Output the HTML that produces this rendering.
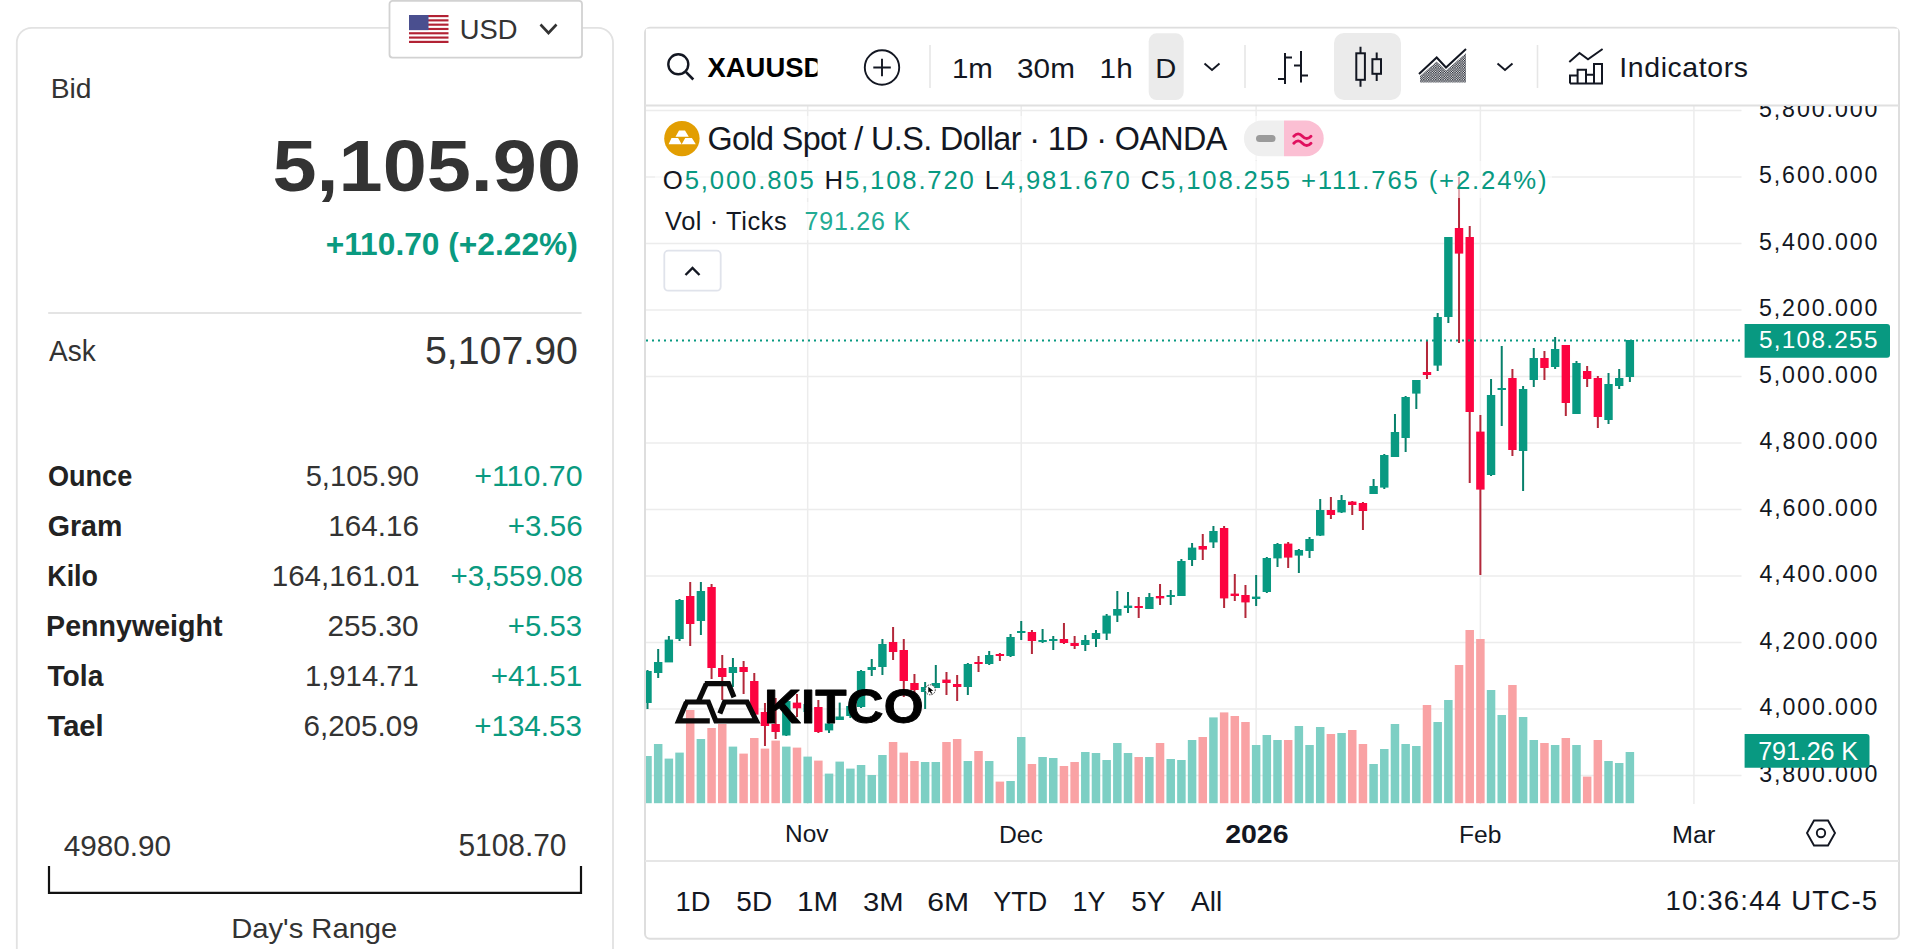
<!DOCTYPE html>
<html><head><meta charset="utf-8"><title>Gold Spot</title>
<style>
html,body{margin:0;padding:0;width:1920px;height:949px;overflow:hidden;background:#ffffff;}
svg{position:absolute;left:0;top:0;display:block;font-family:"Liberation Sans",sans-serif;}
</style></head><body>
<svg width="1920" height="949" viewBox="0 0 1920 949">
<defs>
<clipPath id="clipx"><rect x="700" y="40" width="117.5" height="50"/></clipPath>
<clipPath id="paxclip"><rect x="1742" y="106" width="160" height="700"/></clipPath>
<clipPath id="pane"><rect x="646" y="106" width="1252" height="698"/></clipPath>
<pattern id="dots" width="2.4" height="2.4" patternUnits="userSpaceOnUse"><rect x="0" y="0" width="1.3" height="1.3" fill="#131722"/><rect x="1.2" y="1.2" width="1.2" height="1.2" fill="#131722"/></pattern>
</defs>
<!-- left card -->
<rect x="16.8" y="27.8" width="596.2" height="960" rx="15" fill="#fff" stroke="#e2e2e2" stroke-width="1.8"/>
<line x1="48.2" x2="581.6" y1="312.9" y2="312.9" stroke="#e4e4e4" stroke-width="2"/>
<path d="M49 866 V892.8 H581 V866" fill="none" stroke="#111" stroke-width="2.2"/>
<!-- USD dropdown -->
<rect x="389.5" y="0.9" width="192.5" height="56.7" rx="3" fill="#fff" stroke="#d2d2d2" stroke-width="1.8"/>
<g>
<rect x="409" y="15" width="39.5" height="28" fill="#fff"/>
<rect x="409" y="15" width="39.5" height="2.15" fill="#b22234"/>
<rect x="409" y="19.3" width="39.5" height="2.15" fill="#b22234"/>
<rect x="409" y="23.6" width="39.5" height="2.15" fill="#b22234"/>
<rect x="409" y="27.9" width="39.5" height="2.15" fill="#b22234"/>
<rect x="409" y="32.2" width="39.5" height="2.15" fill="#b22234"/>
<rect x="409" y="36.5" width="39.5" height="2.15" fill="#b22234"/>
<rect x="409" y="40.8" width="39.5" height="2.2" fill="#b22234"/>
<rect x="409" y="15" width="19.5" height="15.1" fill="#4a4f8f"/>
</g>
<path d="M540.5 24.5 L548.5 33 L556.5 24.5" fill="none" stroke="#333" stroke-width="2.6"/>

<!-- chart container -->
<rect x="645" y="27.7" width="1254" height="911" rx="5" fill="#fff" stroke="#dedede" stroke-width="2"/>

<g clip-path="url(#pane)">
<line x1="646" x2="1741.5" y1="110.50" y2="110.50" stroke="#ececec" stroke-width="1.5"/>
<line x1="646" x2="1741.5" y1="177.00" y2="177.00" stroke="#ececec" stroke-width="1.5"/>
<line x1="646" x2="1741.5" y1="243.50" y2="243.50" stroke="#ececec" stroke-width="1.5"/>
<line x1="646" x2="1741.5" y1="310.00" y2="310.00" stroke="#ececec" stroke-width="1.5"/>
<line x1="646" x2="1741.5" y1="376.50" y2="376.50" stroke="#ececec" stroke-width="1.5"/>
<line x1="646" x2="1741.5" y1="443.00" y2="443.00" stroke="#ececec" stroke-width="1.5"/>
<line x1="646" x2="1741.5" y1="509.50" y2="509.50" stroke="#ececec" stroke-width="1.5"/>
<line x1="646" x2="1741.5" y1="576.00" y2="576.00" stroke="#ececec" stroke-width="1.5"/>
<line x1="646" x2="1741.5" y1="642.50" y2="642.50" stroke="#ececec" stroke-width="1.5"/>
<line x1="646" x2="1741.5" y1="709.00" y2="709.00" stroke="#ececec" stroke-width="1.5"/>
<line x1="646" x2="1741.5" y1="775.50" y2="775.50" stroke="#ececec" stroke-width="1.5"/>
<line x1="807.67" x2="807.67" y1="106" y2="804" stroke="#ececec" stroke-width="1.5"/>
<line x1="1021.23" x2="1021.23" y1="106" y2="804" stroke="#ececec" stroke-width="1.5"/>
<line x1="1256.15" x2="1256.15" y1="106" y2="804" stroke="#ececec" stroke-width="1.5"/>
<line x1="1480.38" x2="1480.38" y1="106" y2="804" stroke="#ececec" stroke-width="1.5"/>
<line x1="1693.94" x2="1693.94" y1="106" y2="804" stroke="#ececec" stroke-width="1.5"/>
<rect x="643.25" y="756.0" width="8.5" height="47.2" fill="#7dcfc4"/>
<rect x="653.93" y="744.0" width="8.5" height="59.2" fill="#7dcfc4"/>
<rect x="664.61" y="758.6" width="8.5" height="44.6" fill="#7dcfc4"/>
<rect x="675.28" y="752.6" width="8.5" height="50.6" fill="#7dcfc4"/>
<rect x="685.96" y="710.0" width="8.5" height="93.2" fill="#f9a2a4"/>
<rect x="696.64" y="739.0" width="8.5" height="64.2" fill="#7dcfc4"/>
<rect x="707.32" y="728.0" width="8.5" height="75.2" fill="#f9a2a4"/>
<rect x="718.00" y="724.0" width="8.5" height="79.2" fill="#f9a2a4"/>
<rect x="728.67" y="746.6" width="8.5" height="56.6" fill="#7dcfc4"/>
<rect x="739.35" y="753.6" width="8.5" height="49.6" fill="#f9a2a4"/>
<rect x="750.03" y="738.0" width="8.5" height="65.2" fill="#f9a2a4"/>
<rect x="760.71" y="748.6" width="8.5" height="54.6" fill="#f9a2a4"/>
<rect x="771.39" y="740.6" width="8.5" height="62.6" fill="#f9a2a4"/>
<rect x="782.06" y="746.6" width="8.5" height="56.6" fill="#7dcfc4"/>
<rect x="792.74" y="747.6" width="8.5" height="55.6" fill="#f9a2a4"/>
<rect x="803.42" y="756.6" width="8.5" height="46.6" fill="#7dcfc4"/>
<rect x="814.10" y="760.6" width="8.5" height="42.6" fill="#f9a2a4"/>
<rect x="824.78" y="773.6" width="8.5" height="29.6" fill="#7dcfc4"/>
<rect x="835.45" y="761.6" width="8.5" height="41.6" fill="#7dcfc4"/>
<rect x="846.13" y="768.6" width="8.5" height="34.6" fill="#7dcfc4"/>
<rect x="856.81" y="765.0" width="8.5" height="38.2" fill="#7dcfc4"/>
<rect x="867.49" y="775.0" width="8.5" height="28.2" fill="#7dcfc4"/>
<rect x="878.17" y="755.0" width="8.5" height="48.2" fill="#7dcfc4"/>
<rect x="888.84" y="742.0" width="8.5" height="61.2" fill="#f9a2a4"/>
<rect x="899.52" y="752.6" width="8.5" height="50.6" fill="#f9a2a4"/>
<rect x="910.20" y="761.0" width="8.5" height="42.2" fill="#f9a2a4"/>
<rect x="920.88" y="762.0" width="8.5" height="41.2" fill="#7dcfc4"/>
<rect x="931.56" y="762.0" width="8.5" height="41.2" fill="#7dcfc4"/>
<rect x="942.23" y="742.0" width="8.5" height="61.2" fill="#f9a2a4"/>
<rect x="952.91" y="739.0" width="8.5" height="64.2" fill="#f9a2a4"/>
<rect x="963.59" y="761.0" width="8.5" height="42.2" fill="#7dcfc4"/>
<rect x="974.27" y="751.0" width="8.5" height="52.2" fill="#f9a2a4"/>
<rect x="984.95" y="761.0" width="8.5" height="42.2" fill="#7dcfc4"/>
<rect x="995.62" y="781.6" width="8.5" height="21.6" fill="#f9a2a4"/>
<rect x="1006.30" y="781.0" width="8.5" height="22.2" fill="#7dcfc4"/>
<rect x="1016.98" y="737.0" width="8.5" height="66.2" fill="#7dcfc4"/>
<rect x="1027.66" y="764.0" width="8.5" height="39.2" fill="#f9a2a4"/>
<rect x="1038.34" y="757.0" width="8.5" height="46.2" fill="#7dcfc4"/>
<rect x="1049.01" y="758.0" width="8.5" height="45.2" fill="#7dcfc4"/>
<rect x="1059.69" y="766.0" width="8.5" height="37.2" fill="#f9a2a4"/>
<rect x="1070.37" y="762.0" width="8.5" height="41.2" fill="#f9a2a4"/>
<rect x="1081.05" y="752.0" width="8.5" height="51.2" fill="#7dcfc4"/>
<rect x="1091.73" y="753.0" width="8.5" height="50.2" fill="#7dcfc4"/>
<rect x="1102.40" y="760.0" width="8.5" height="43.2" fill="#7dcfc4"/>
<rect x="1113.08" y="743.0" width="8.5" height="60.2" fill="#7dcfc4"/>
<rect x="1123.76" y="753.0" width="8.5" height="50.2" fill="#7dcfc4"/>
<rect x="1134.44" y="757.0" width="8.5" height="46.2" fill="#f9a2a4"/>
<rect x="1145.12" y="757.0" width="8.5" height="46.2" fill="#7dcfc4"/>
<rect x="1155.79" y="743.0" width="8.5" height="60.2" fill="#f9a2a4"/>
<rect x="1166.47" y="759.0" width="8.5" height="44.2" fill="#7dcfc4"/>
<rect x="1177.15" y="760.0" width="8.5" height="43.2" fill="#7dcfc4"/>
<rect x="1187.83" y="740.0" width="8.5" height="63.2" fill="#7dcfc4"/>
<rect x="1198.51" y="737.0" width="8.5" height="66.2" fill="#f9a2a4"/>
<rect x="1209.18" y="717.4" width="8.5" height="85.8" fill="#7dcfc4"/>
<rect x="1219.86" y="712.4" width="8.5" height="90.8" fill="#f9a2a4"/>
<rect x="1230.54" y="716.0" width="8.5" height="87.2" fill="#f9a2a4"/>
<rect x="1241.22" y="722.0" width="8.5" height="81.2" fill="#f9a2a4"/>
<rect x="1251.90" y="745.0" width="8.5" height="58.2" fill="#7dcfc4"/>
<rect x="1262.57" y="735.0" width="8.5" height="68.2" fill="#7dcfc4"/>
<rect x="1273.25" y="740.0" width="8.5" height="63.2" fill="#7dcfc4"/>
<rect x="1283.93" y="740.0" width="8.5" height="63.2" fill="#f9a2a4"/>
<rect x="1294.61" y="726.0" width="8.5" height="77.2" fill="#7dcfc4"/>
<rect x="1305.29" y="745.0" width="8.5" height="58.2" fill="#7dcfc4"/>
<rect x="1315.96" y="727.0" width="8.5" height="76.2" fill="#7dcfc4"/>
<rect x="1326.64" y="734.0" width="8.5" height="69.2" fill="#f9a2a4"/>
<rect x="1337.32" y="733.0" width="8.5" height="70.2" fill="#7dcfc4"/>
<rect x="1348.00" y="730.0" width="8.5" height="73.2" fill="#f9a2a4"/>
<rect x="1358.68" y="744.0" width="8.5" height="59.2" fill="#f9a2a4"/>
<rect x="1369.35" y="764.0" width="8.5" height="39.2" fill="#7dcfc4"/>
<rect x="1380.03" y="749.0" width="8.5" height="54.2" fill="#7dcfc4"/>
<rect x="1390.71" y="724.0" width="8.5" height="79.2" fill="#7dcfc4"/>
<rect x="1401.39" y="744.0" width="8.5" height="59.2" fill="#7dcfc4"/>
<rect x="1412.07" y="746.0" width="8.5" height="57.2" fill="#7dcfc4"/>
<rect x="1422.74" y="705.0" width="8.5" height="98.2" fill="#f9a2a4"/>
<rect x="1433.42" y="722.0" width="8.5" height="81.2" fill="#7dcfc4"/>
<rect x="1444.10" y="700.0" width="8.5" height="103.2" fill="#7dcfc4"/>
<rect x="1454.78" y="665.0" width="8.5" height="138.2" fill="#f9a2a4"/>
<rect x="1465.46" y="630.0" width="8.5" height="173.2" fill="#f9a2a4"/>
<rect x="1476.13" y="639.0" width="8.5" height="164.2" fill="#f9a2a4"/>
<rect x="1486.81" y="690.0" width="8.5" height="113.2" fill="#7dcfc4"/>
<rect x="1497.49" y="715.0" width="8.5" height="88.2" fill="#7dcfc4"/>
<rect x="1508.17" y="685.0" width="8.5" height="118.2" fill="#f9a2a4"/>
<rect x="1518.85" y="717.0" width="8.5" height="86.2" fill="#7dcfc4"/>
<rect x="1529.52" y="740.0" width="8.5" height="63.2" fill="#7dcfc4"/>
<rect x="1540.20" y="743.0" width="8.5" height="60.2" fill="#f9a2a4"/>
<rect x="1550.88" y="745.0" width="8.5" height="58.2" fill="#7dcfc4"/>
<rect x="1561.56" y="738.0" width="8.5" height="65.2" fill="#f9a2a4"/>
<rect x="1572.24" y="745.0" width="8.5" height="58.2" fill="#7dcfc4"/>
<rect x="1582.91" y="776.6" width="8.5" height="26.6" fill="#f9a2a4"/>
<rect x="1593.59" y="740.0" width="8.5" height="63.2" fill="#f9a2a4"/>
<rect x="1604.27" y="761.0" width="8.5" height="42.2" fill="#7dcfc4"/>
<rect x="1614.95" y="763.0" width="8.5" height="40.2" fill="#7dcfc4"/>
<rect x="1625.63" y="752.0" width="8.5" height="51.2" fill="#7dcfc4"/>
<rect x="646.50" y="670.0" width="2" height="39.0" fill="#07806b"/>
<rect x="643.30" y="671.0" width="8.4" height="32.0" fill="#089981"/>
<rect x="657.18" y="649.0" width="2" height="29.0" fill="#07806b"/>
<rect x="653.98" y="662.0" width="8.4" height="11.0" fill="#089981"/>
<rect x="667.86" y="636.0" width="2" height="26.0" fill="#07806b"/>
<rect x="664.66" y="639.6" width="8.4" height="22.8" fill="#089981"/>
<rect x="678.53" y="599.0" width="2" height="42.0" fill="#07806b"/>
<rect x="675.33" y="600.0" width="8.4" height="39.0" fill="#089981"/>
<rect x="689.21" y="582.0" width="2" height="64.0" fill="#b3283a"/>
<rect x="686.01" y="596.0" width="8.4" height="28.0" fill="#fc0440"/>
<rect x="699.89" y="582.0" width="2" height="53.0" fill="#07806b"/>
<rect x="696.69" y="591.0" width="8.4" height="30.0" fill="#089981"/>
<rect x="710.57" y="584.0" width="2" height="95.0" fill="#b3283a"/>
<rect x="707.37" y="587.0" width="8.4" height="81.0" fill="#fc0440"/>
<rect x="721.25" y="655.0" width="2" height="45.0" fill="#b3283a"/>
<rect x="718.05" y="668.0" width="8.4" height="9.0" fill="#fc0440"/>
<rect x="731.92" y="658.0" width="2" height="29.0" fill="#07806b"/>
<rect x="728.72" y="667.0" width="8.4" height="6.0" fill="#089981"/>
<rect x="742.60" y="661.0" width="2" height="33.0" fill="#b3283a"/>
<rect x="739.40" y="667.0" width="8.4" height="5.0" fill="#fc0440"/>
<rect x="753.28" y="673.0" width="2" height="43.0" fill="#b3283a"/>
<rect x="750.08" y="681.0" width="8.4" height="33.6" fill="#fc0440"/>
<rect x="763.96" y="703.0" width="2" height="43.0" fill="#b3283a"/>
<rect x="760.76" y="712.0" width="8.4" height="14.0" fill="#fc0440"/>
<rect x="774.64" y="698.0" width="2" height="41.0" fill="#b3283a"/>
<rect x="771.44" y="724.0" width="8.4" height="8.0" fill="#fc0440"/>
<rect x="785.31" y="700.0" width="2" height="36.0" fill="#07806b"/>
<rect x="782.11" y="701.0" width="8.4" height="34.5" fill="#089981"/>
<rect x="795.99" y="694.0" width="2" height="23.0" fill="#b3283a"/>
<rect x="792.79" y="702.6" width="8.4" height="5.7" fill="#fc0440"/>
<rect x="806.67" y="697.0" width="2" height="21.0" fill="#07806b"/>
<rect x="803.47" y="704.0" width="8.4" height="8.0" fill="#089981"/>
<rect x="817.35" y="700.0" width="2" height="33.0" fill="#b3283a"/>
<rect x="814.15" y="707.0" width="8.4" height="25.0" fill="#fc0440"/>
<rect x="828.03" y="715.0" width="2" height="18.0" fill="#07806b"/>
<rect x="824.83" y="723.5" width="8.4" height="6.9" fill="#089981"/>
<rect x="838.70" y="702.6" width="2" height="17.4" fill="#07806b"/>
<rect x="835.50" y="716.5" width="8.4" height="3.5" fill="#089981"/>
<rect x="849.38" y="700.0" width="2" height="18.0" fill="#07806b"/>
<rect x="846.18" y="706.0" width="8.4" height="10.0" fill="#089981"/>
<rect x="860.06" y="670.0" width="2" height="38.0" fill="#07806b"/>
<rect x="856.86" y="671.0" width="8.4" height="36.0" fill="#089981"/>
<rect x="870.74" y="659.0" width="2" height="17.0" fill="#07806b"/>
<rect x="867.54" y="667.0" width="8.4" height="3.0" fill="#089981"/>
<rect x="881.42" y="639.0" width="2" height="36.0" fill="#07806b"/>
<rect x="878.22" y="644.0" width="8.4" height="23.0" fill="#089981"/>
<rect x="892.09" y="627.0" width="2" height="33.0" fill="#b3283a"/>
<rect x="888.89" y="642.0" width="8.4" height="10.0" fill="#fc0440"/>
<rect x="902.77" y="639.0" width="2" height="58.0" fill="#b3283a"/>
<rect x="899.57" y="650.0" width="8.4" height="31.0" fill="#fc0440"/>
<rect x="913.45" y="674.0" width="2" height="21.0" fill="#b3283a"/>
<rect x="910.25" y="683.0" width="8.4" height="7.0" fill="#fc0440"/>
<rect x="924.13" y="682.0" width="2" height="27.0" fill="#07806b"/>
<rect x="920.93" y="687.0" width="8.4" height="5.0" fill="#089981"/>
<rect x="934.81" y="665.0" width="2" height="23.0" fill="#07806b"/>
<rect x="931.61" y="683.0" width="8.4" height="5.0" fill="#089981"/>
<rect x="945.48" y="672.0" width="2" height="23.0" fill="#b3283a"/>
<rect x="942.28" y="679.6" width="8.4" height="3.4" fill="#fc0440"/>
<rect x="956.16" y="675.0" width="2" height="26.0" fill="#b3283a"/>
<rect x="952.96" y="684.0" width="8.4" height="3.0" fill="#fc0440"/>
<rect x="966.84" y="663.0" width="2" height="32.0" fill="#07806b"/>
<rect x="963.64" y="664.0" width="8.4" height="23.0" fill="#089981"/>
<rect x="977.52" y="656.0" width="2" height="16.0" fill="#b3283a"/>
<rect x="974.32" y="662.0" width="8.4" height="2.0" fill="#fc0440"/>
<rect x="988.20" y="651.0" width="2" height="14.0" fill="#07806b"/>
<rect x="985.00" y="655.0" width="8.4" height="9.0" fill="#089981"/>
<rect x="998.87" y="653.0" width="2" height="8.0" fill="#b3283a"/>
<rect x="995.67" y="654.0" width="8.4" height="2.0" fill="#fc0440"/>
<rect x="1009.55" y="634.0" width="2" height="23.0" fill="#07806b"/>
<rect x="1006.35" y="637.0" width="8.4" height="19.0" fill="#089981"/>
<rect x="1020.23" y="621.0" width="2" height="19.0" fill="#07806b"/>
<rect x="1017.03" y="631.0" width="8.4" height="2.0" fill="#089981"/>
<rect x="1030.91" y="630.0" width="2" height="24.0" fill="#b3283a"/>
<rect x="1027.71" y="632.0" width="8.4" height="9.0" fill="#fc0440"/>
<rect x="1041.59" y="629.0" width="2" height="14.0" fill="#07806b"/>
<rect x="1038.39" y="640.0" width="8.4" height="2.0" fill="#089981"/>
<rect x="1052.26" y="636.0" width="2" height="14.0" fill="#07806b"/>
<rect x="1049.06" y="639.0" width="8.4" height="2.0" fill="#089981"/>
<rect x="1062.94" y="623.0" width="2" height="21.0" fill="#b3283a"/>
<rect x="1059.74" y="639.0" width="8.4" height="4.0" fill="#fc0440"/>
<rect x="1073.62" y="636.0" width="2" height="13.0" fill="#b3283a"/>
<rect x="1070.42" y="643.0" width="8.4" height="3.0" fill="#fc0440"/>
<rect x="1084.30" y="635.0" width="2" height="16.0" fill="#07806b"/>
<rect x="1081.10" y="640.0" width="8.4" height="5.0" fill="#089981"/>
<rect x="1094.98" y="630.0" width="2" height="17.0" fill="#07806b"/>
<rect x="1091.78" y="633.0" width="8.4" height="6.0" fill="#089981"/>
<rect x="1105.65" y="614.0" width="2" height="26.0" fill="#07806b"/>
<rect x="1102.45" y="615.6" width="8.4" height="18.0" fill="#089981"/>
<rect x="1116.33" y="591.0" width="2" height="31.0" fill="#07806b"/>
<rect x="1113.13" y="609.0" width="8.4" height="6.6" fill="#089981"/>
<rect x="1127.01" y="592.0" width="2" height="21.0" fill="#07806b"/>
<rect x="1123.81" y="605.6" width="8.4" height="2.4" fill="#089981"/>
<rect x="1137.69" y="597.0" width="2" height="21.0" fill="#b3283a"/>
<rect x="1134.49" y="606.0" width="8.4" height="2.0" fill="#fc0440"/>
<rect x="1148.37" y="593.0" width="2" height="16.0" fill="#07806b"/>
<rect x="1145.17" y="597.0" width="8.4" height="12.0" fill="#089981"/>
<rect x="1159.04" y="584.0" width="2" height="21.0" fill="#b3283a"/>
<rect x="1155.84" y="596.0" width="8.4" height="2.4" fill="#fc0440"/>
<rect x="1169.72" y="590.0" width="2" height="15.0" fill="#07806b"/>
<rect x="1166.52" y="595.0" width="8.4" height="2.0" fill="#089981"/>
<rect x="1180.40" y="559.0" width="2" height="37.0" fill="#07806b"/>
<rect x="1177.20" y="561.0" width="8.4" height="35.0" fill="#089981"/>
<rect x="1191.08" y="543.0" width="2" height="23.0" fill="#07806b"/>
<rect x="1187.88" y="547.6" width="8.4" height="12.4" fill="#089981"/>
<rect x="1201.76" y="534.0" width="2" height="26.0" fill="#b3283a"/>
<rect x="1198.56" y="546.0" width="8.4" height="3.6" fill="#fc0440"/>
<rect x="1212.43" y="526.0" width="2" height="22.0" fill="#07806b"/>
<rect x="1209.23" y="531.0" width="8.4" height="11.4" fill="#089981"/>
<rect x="1223.11" y="526.0" width="2" height="82.0" fill="#b3283a"/>
<rect x="1219.91" y="528.0" width="8.4" height="70.4" fill="#fc0440"/>
<rect x="1233.79" y="574.0" width="2" height="27.0" fill="#b3283a"/>
<rect x="1230.59" y="593.6" width="8.4" height="2.4" fill="#fc0440"/>
<rect x="1244.47" y="585.0" width="2" height="33.0" fill="#b3283a"/>
<rect x="1241.27" y="595.0" width="8.4" height="7.4" fill="#fc0440"/>
<rect x="1255.15" y="575.0" width="2" height="31.0" fill="#07806b"/>
<rect x="1251.95" y="596.6" width="8.4" height="2.4" fill="#089981"/>
<rect x="1265.82" y="557.0" width="2" height="36.0" fill="#07806b"/>
<rect x="1262.62" y="558.0" width="8.4" height="34.0" fill="#089981"/>
<rect x="1276.50" y="543.0" width="2" height="24.0" fill="#07806b"/>
<rect x="1273.30" y="544.0" width="8.4" height="14.4" fill="#089981"/>
<rect x="1287.18" y="542.0" width="2" height="26.0" fill="#b3283a"/>
<rect x="1283.98" y="543.6" width="8.4" height="14.0" fill="#fc0440"/>
<rect x="1297.86" y="549.0" width="2" height="24.0" fill="#07806b"/>
<rect x="1294.66" y="550.0" width="8.4" height="5.6" fill="#089981"/>
<rect x="1308.54" y="537.0" width="2" height="21.0" fill="#07806b"/>
<rect x="1305.34" y="539.0" width="8.4" height="12.0" fill="#089981"/>
<rect x="1319.21" y="499.0" width="2" height="37.0" fill="#07806b"/>
<rect x="1316.01" y="510.0" width="8.4" height="25.6" fill="#089981"/>
<rect x="1329.89" y="497.0" width="2" height="22.0" fill="#b3283a"/>
<rect x="1326.69" y="510.0" width="8.4" height="5.0" fill="#fc0440"/>
<rect x="1340.57" y="495.0" width="2" height="18.0" fill="#07806b"/>
<rect x="1337.37" y="500.0" width="8.4" height="12.4" fill="#089981"/>
<rect x="1351.25" y="501.0" width="2" height="14.0" fill="#b3283a"/>
<rect x="1348.05" y="501.6" width="8.4" height="3.4" fill="#fc0440"/>
<rect x="1361.93" y="502.0" width="2" height="28.0" fill="#b3283a"/>
<rect x="1358.73" y="503.0" width="8.4" height="8.0" fill="#fc0440"/>
<rect x="1372.60" y="479.0" width="2" height="15.0" fill="#07806b"/>
<rect x="1369.40" y="486.0" width="8.4" height="8.0" fill="#089981"/>
<rect x="1383.28" y="454.0" width="2" height="35.0" fill="#07806b"/>
<rect x="1380.08" y="455.0" width="8.4" height="32.6" fill="#089981"/>
<rect x="1393.96" y="414.0" width="2" height="43.0" fill="#07806b"/>
<rect x="1390.76" y="432.0" width="8.4" height="25.0" fill="#089981"/>
<rect x="1404.64" y="396.0" width="2" height="56.0" fill="#07806b"/>
<rect x="1401.44" y="397.0" width="8.4" height="41.0" fill="#089981"/>
<rect x="1415.32" y="380.0" width="2" height="29.0" fill="#07806b"/>
<rect x="1412.12" y="380.0" width="8.4" height="13.6" fill="#089981"/>
<rect x="1425.99" y="340.0" width="2" height="39.0" fill="#b3283a"/>
<rect x="1422.79" y="372.0" width="8.4" height="3.0" fill="#fc0440"/>
<rect x="1436.67" y="313.0" width="2" height="58.0" fill="#07806b"/>
<rect x="1433.47" y="317.0" width="8.4" height="48.6" fill="#089981"/>
<rect x="1447.35" y="237.0" width="2" height="86.0" fill="#07806b"/>
<rect x="1444.15" y="237.0" width="8.4" height="80.0" fill="#089981"/>
<rect x="1458.03" y="177.0" width="2" height="166.0" fill="#b3283a"/>
<rect x="1454.83" y="228.0" width="8.4" height="25.6" fill="#fc0440"/>
<rect x="1468.71" y="226.0" width="2" height="257.0" fill="#b3283a"/>
<rect x="1465.51" y="237.0" width="8.4" height="175.0" fill="#fc0440"/>
<rect x="1479.38" y="415.0" width="2" height="160.0" fill="#b3283a"/>
<rect x="1476.18" y="431.6" width="8.4" height="58.0" fill="#fc0440"/>
<rect x="1490.06" y="379.0" width="2" height="97.0" fill="#07806b"/>
<rect x="1486.86" y="395.0" width="8.4" height="80.0" fill="#089981"/>
<rect x="1500.74" y="346.0" width="2" height="80.0" fill="#07806b"/>
<rect x="1497.54" y="388.0" width="8.4" height="2.0" fill="#089981"/>
<rect x="1511.42" y="369.0" width="2" height="87.0" fill="#b3283a"/>
<rect x="1508.22" y="378.0" width="8.4" height="72.0" fill="#fc0440"/>
<rect x="1522.10" y="386.0" width="2" height="105.0" fill="#07806b"/>
<rect x="1518.90" y="389.0" width="8.4" height="62.0" fill="#089981"/>
<rect x="1532.77" y="348.0" width="2" height="39.0" fill="#07806b"/>
<rect x="1529.57" y="358.0" width="8.4" height="22.0" fill="#089981"/>
<rect x="1543.45" y="351.0" width="2" height="29.0" fill="#b3283a"/>
<rect x="1540.25" y="358.0" width="8.4" height="10.0" fill="#fc0440"/>
<rect x="1554.13" y="337.0" width="2" height="32.0" fill="#07806b"/>
<rect x="1550.93" y="349.0" width="8.4" height="18.0" fill="#089981"/>
<rect x="1564.81" y="345.0" width="2" height="71.0" fill="#b3283a"/>
<rect x="1561.61" y="345.0" width="8.4" height="58.0" fill="#fc0440"/>
<rect x="1575.49" y="361.0" width="2" height="53.0" fill="#07806b"/>
<rect x="1572.29" y="363.0" width="8.4" height="51.0" fill="#089981"/>
<rect x="1586.16" y="366.0" width="2" height="21.0" fill="#b3283a"/>
<rect x="1582.96" y="371.0" width="8.4" height="8.0" fill="#fc0440"/>
<rect x="1596.84" y="376.0" width="2" height="52.0" fill="#b3283a"/>
<rect x="1593.64" y="378.0" width="8.4" height="39.0" fill="#fc0440"/>
<rect x="1607.52" y="373.0" width="2" height="51.0" fill="#07806b"/>
<rect x="1604.32" y="384.0" width="8.4" height="36.0" fill="#089981"/>
<rect x="1618.20" y="369.0" width="2" height="20.0" fill="#07806b"/>
<rect x="1615.00" y="378.0" width="8.4" height="8.0" fill="#089981"/>
<rect x="1628.88" y="340.0" width="2" height="42.0" fill="#07806b"/>
<rect x="1625.68" y="340.0" width="8.4" height="37.0" fill="#089981"/>
</g>

<!-- dotted price line -->
<line x1="646" x2="1744" y1="340.5" y2="340.5" stroke="#089981" stroke-width="2" stroke-dasharray="2 4"/>

<!-- legend backgrounds -->
<rect x="655" y="116" width="675" height="44" fill="#fff" fill-opacity="0.6"/>
<rect x="655" y="161" width="897" height="37" fill="#fff" fill-opacity="0.6"/>
<rect x="655" y="202" width="262" height="38" fill="#fff" fill-opacity="0.6"/>
<!-- collapse button -->
<rect x="664.3" y="250.7" width="56.4" height="40" rx="4" fill="#fff" stroke="#e0e3eb" stroke-width="1.8"/>
<path d="M685.5 275 L692.5 268 L699.5 275" fill="none" stroke="#131722" stroke-width="2.4"/>
<!-- gold icon -->
<circle cx="681.9" cy="138.6" r="17.7" fill="#e29e02"/>
<path d="M679 130.4 H685 L688.8 136.8 H675.5 Z M671.5 138.1 H678.1 L681.7 144.3 H668.6 Z M685.2 138.1 H691.9 L695.8 144.3 H681.7 Z" fill="#fff"/>
<!-- toggle pill -->
<path d="M1261.75 120.6 H1284 V156.25 H1261.75 A17.8 17.8 0 0 1 1261.75 120.6 Z" fill="#efefef"/>
<path d="M1284 120.6 H1305.9 A17.8 17.8 0 0 1 1305.9 156.25 H1284 Z" fill="#fbbfd3"/>
<rect x="1256" y="135" width="19.5" height="7" rx="3.5" fill="#9b9b9b"/>
<path d="M1293.8 136.2 q4.3 -4.6 8.6 0 t8.6 0 M1293.8 143.2 q4.3 -4.6 8.6 0 t8.6 0" fill="none" stroke="#e0105e" stroke-width="2.9" stroke-linecap="round"/>

<!-- toolbar -->
<rect x="646" y="28.7" width="1252" height="76.3" fill="#fff"/>
<line x1="645" x2="1899" y1="105.5" y2="105.5" stroke="#e0e0e0" stroke-width="1.8"/>
<circle cx="678.3" cy="64.3" r="10" fill="none" stroke="#131722" stroke-width="2.4"/>
<line x1="685.8" y1="71.8" x2="693.3" y2="79.5" stroke="#131722" stroke-width="2.6"/>
<circle cx="882" cy="67.5" r="17.2" fill="none" stroke="#131722" stroke-width="1.9"/>
<path d="M873.3 67.5 H890.8 M882 58.8 V76.2" stroke="#131722" stroke-width="1.9"/>
<line x1="930" x2="930" y1="45" y2="88" stroke="#e6e6e6" stroke-width="1.6"/>
<line x1="1245" x2="1245" y1="45" y2="88" stroke="#e6e6e6" stroke-width="1.6"/>
<line x1="1537.5" x2="1537.5" y1="45" y2="88" stroke="#e6e6e6" stroke-width="1.6"/>
<rect x="1148.7" y="33.3" width="35" height="66.7" rx="8" fill="#ebebeb"/>
<path d="M1204.5 63.5 L1212 70 L1219.5 63.5" fill="none" stroke="#131722" stroke-width="1.9"/>
<path d="M1497.5 63.5 L1505 70 L1512.5 63.5" fill="none" stroke="#131722" stroke-width="1.9"/>
<!-- bar icon -->
<path d="M1285 53 V84 M1285 57.5 H1292 M1278 79 H1285 M1301 51 V82.5 M1294 65.5 H1301 M1301 75.5 H1308" fill="none" stroke="#131722" stroke-width="2"/>
<!-- candle icon -->
<rect x="1334" y="33" width="67" height="67" rx="10" fill="#ebebeb"/>
<path d="M1360.5 46.7 V53 M1360.5 80 V86.7 M1376.7 52.5 V59 M1376.7 74 V81" stroke="#131722" stroke-width="2"/>
<rect x="1356.3" y="53.3" width="8.6" height="26.5" fill="none" stroke="#131722" stroke-width="2"/>
<rect x="1372.4" y="59.2" width="8.6" height="14.6" fill="none" stroke="#131722" stroke-width="2"/>
<!-- area icon -->
<path d="M1420 82.5 V76 L1436.7 61.5 L1446 70.5 L1466 53 V82.5 Z" fill="url(#dots)"/>
<path d="M1419 74 L1436.7 57.5 L1446 67.5 L1466 49" fill="none" stroke="#131722" stroke-width="2"/>
<!-- indicators icon -->
<path d="M1569.3 62 L1579.5 53 L1588 59.3 L1602.6 49" fill="none" stroke="#131722" stroke-width="2"/>
<path d="M1570 83.5 V75.5 H1577.6 V83.5 M1577.6 83.5 V69.7 H1586 V83.5 M1586 83.5 V74.7 H1594 V83.5 M1594 83.5 V64 H1602 V83.5 Z M1570 83.5 H1602" fill="none" stroke="#131722" stroke-width="2"/>

<!-- time axis / bottom bar -->
<line x1="645" x2="1899" y1="861" y2="861" stroke="#e6e6e6" stroke-width="1.8"/>
<path d="M1807 833 L1814 820.5 H1828 L1835 833 L1828 845.5 H1814 Z" fill="none" stroke="#131722" stroke-width="1.9"/>
<circle cx="1821" cy="833" r="4.2" fill="none" stroke="#131722" stroke-width="1.9"/>

<!-- KITCO logo -->
<g fill="none" stroke="#0a0a0a" stroke-width="5.2" stroke-linejoin="miter" stroke-linecap="butt">
<path d="M704.8 683.7 H728.5 L734 697.2"/>
<path d="M706.3 683.7 L698.6 701"/>
<path d="M685 702 H708.3 L715.8 720.8 H756.4 L747.1 702 H724.5 L719.8 713.5"/>
<path d="M686.5 702 L678.6 720.8 H709.8"/>
</g>
<g transform="translate(930.3 689.8)"><circle r="5" fill="#fff" stroke="#333" stroke-width="1" stroke-dasharray="1.5 1"/><path d="M-2 -3 L3 1 L0.5 1.2 L2 3.5 L0.8 4 L-0.6 1.8 L-2 3 Z" fill="#000"/></g>
<text x="50.74" y="98.00" font-size="27.54" fill="#333333" textLength="40.85" lengthAdjust="spacingAndGlyphs" xml:space="preserve">Bid</text>
<text x="272.42" y="190.80" font-size="71.86" fill="#333333" font-weight="700" textLength="308.65" lengthAdjust="spacingAndGlyphs" xml:space="preserve">5,105.90</text>
<text x="325.73" y="255.20" font-size="30.86" fill="#0a9a80" font-weight="700" textLength="252.13" lengthAdjust="spacingAndGlyphs" xml:space="preserve">+110.70 (+2.22%)</text>
<text x="49.00" y="360.70" font-size="30.29" fill="#333333" textLength="46.72" lengthAdjust="spacingAndGlyphs" xml:space="preserve">Ask</text>
<text x="424.93" y="364.00" font-size="38.57" fill="#333333" textLength="152.99" lengthAdjust="spacingAndGlyphs" xml:space="preserve">5,107.90</text>
<text x="47.92" y="485.50" font-size="29.14" fill="#222222" font-weight="700" textLength="84.29" lengthAdjust="spacingAndGlyphs" xml:space="preserve">Ounce</text>
<text x="305.63" y="485.50" font-size="29.57" fill="#333333" textLength="113.42" lengthAdjust="spacingAndGlyphs" xml:space="preserve">5,105.90</text>
<text x="474.18" y="485.50" font-size="29.57" fill="#0a9a80" textLength="108.52" lengthAdjust="spacingAndGlyphs" xml:space="preserve">+110.70</text>
<text x="47.76" y="535.50" font-size="29.14" fill="#222222" font-weight="700" textLength="74.63" lengthAdjust="spacingAndGlyphs" xml:space="preserve">Gram</text>
<text x="328.32" y="535.50" font-size="29.57" fill="#333333" textLength="90.75" lengthAdjust="spacingAndGlyphs" xml:space="preserve">164.16</text>
<text x="507.82" y="535.50" font-size="29.57" fill="#0a9a80" xml:space="preserve">+3.56</text>
<text x="47.29" y="585.50" font-size="29.14" fill="#222222" font-weight="700" textLength="50.64" lengthAdjust="spacingAndGlyphs" xml:space="preserve">Kilo</text>
<text x="271.74" y="585.50" font-size="29.57" fill="#333333" xml:space="preserve">164,161.01</text>
<text x="450.62" y="585.50" font-size="29.57" fill="#0a9a80" xml:space="preserve">+3,559.08</text>
<text x="46.08" y="635.50" font-size="29.57" fill="#222222" font-weight="700" textLength="176.40" lengthAdjust="spacingAndGlyphs" xml:space="preserve">Pennyweight</text>
<text x="327.51" y="635.50" font-size="29.57" fill="#333333" textLength="91.07" lengthAdjust="spacingAndGlyphs" xml:space="preserve">255.30</text>
<text x="507.83" y="635.50" font-size="29.57" fill="#0a9a80" textLength="74.23" lengthAdjust="spacingAndGlyphs" xml:space="preserve">+5.53</text>
<text x="47.52" y="685.50" font-size="29.14" fill="#222222" font-weight="700" textLength="55.79" lengthAdjust="spacingAndGlyphs" xml:space="preserve">Tola</text>
<text x="304.95" y="685.50" font-size="29.57" fill="#333333" textLength="113.90" lengthAdjust="spacingAndGlyphs" xml:space="preserve">1,914.71</text>
<text x="490.81" y="685.50" font-size="29.57" fill="#0a9a80" textLength="91.56" lengthAdjust="spacingAndGlyphs" xml:space="preserve">+41.51</text>
<text x="47.51" y="735.50" font-size="29.14" fill="#222222" font-weight="700" xml:space="preserve">Tael</text>
<text x="303.52" y="735.50" font-size="29.57" fill="#333333" xml:space="preserve">6,205.09</text>
<text x="474.22" y="735.50" font-size="29.57" fill="#0a9a80" xml:space="preserve">+134.53</text>
<text x="63.71" y="856.00" font-size="30.00" fill="#333333" textLength="107.37" lengthAdjust="spacingAndGlyphs" xml:space="preserve">4980.90</text>
<text x="458.40" y="856.00" font-size="30.43" fill="#333333" textLength="108.08" lengthAdjust="spacingAndGlyphs" xml:space="preserve">5108.70</text>
<text x="231.16" y="937.50" font-size="28.26" fill="#333333" textLength="166.19" lengthAdjust="spacingAndGlyphs" xml:space="preserve">Day's Range</text>
<text x="459.78" y="38.60" font-size="28.41" fill="#333333" textLength="57.77" lengthAdjust="spacingAndGlyphs" xml:space="preserve">USD</text>
<text x="707.50" y="76.70" font-size="27.43" fill="#000000" font-weight="700" clip-path="url(#clipx)" xml:space="preserve">XAUUSD</text>
<text x="951.94" y="77.50" font-size="27.83" fill="#131722" textLength="40.92" lengthAdjust="spacingAndGlyphs" xml:space="preserve">1m</text>
<text x="1017.11" y="77.50" font-size="27.43" fill="#131722" textLength="57.76" lengthAdjust="spacingAndGlyphs" xml:space="preserve">30m</text>
<text x="1099.62" y="77.50" font-size="27.83" fill="#131722" textLength="33.05" lengthAdjust="spacingAndGlyphs" xml:space="preserve">1h</text>
<text x="1155.17" y="77.50" font-size="27.83" fill="#131722" textLength="21.06" lengthAdjust="spacingAndGlyphs" xml:space="preserve">D</text>
<text x="1619.33" y="77.40" font-size="28.41" fill="#131722" textLength="128.56" lengthAdjust="spacing" xml:space="preserve">Indicators</text>
<text x="707.45" y="150.40" font-size="32.32" fill="#131722" textLength="519.96" lengthAdjust="spacing" xml:space="preserve">Gold Spot / U.S. Dollar · 1D · OANDA</text>
<text x="662.83" y="188.75" font-size="25.72" fill="#131722" textLength="883.73" lengthAdjust="spacing" xml:space="preserve"><tspan fill="#131722">O</tspan><tspan fill="#089981">5,000.805&#160;</tspan><tspan fill="#131722">H</tspan><tspan fill="#089981">5,108.720&#160;</tspan><tspan fill="#131722">L</tspan><tspan fill="#089981">4,981.670&#160;</tspan><tspan fill="#131722">C</tspan><tspan fill="#089981">5,108.255 +111.765 (+2.24%)</tspan></text>
<text x="665.00" y="229.50" font-size="25.36" fill="#131722" textLength="121.80" lengthAdjust="spacing" xml:space="preserve">Vol · Ticks</text>
<text x="804.48" y="229.50" font-size="25.00" fill="#22ab94" textLength="105.70" lengthAdjust="spacing" xml:space="preserve">791.26 K</text>
<text x="1758.93" y="116.60" font-size="23.19" fill="#131722" textLength="118.53" lengthAdjust="spacing" clip-path="url(#paxclip)" xml:space="preserve">5,800.000</text>
<text x="1758.93" y="183.10" font-size="23.19" fill="#131722" textLength="118.53" lengthAdjust="spacing" clip-path="url(#paxclip)" xml:space="preserve">5,600.000</text>
<text x="1758.93" y="249.60" font-size="23.19" fill="#131722" textLength="118.53" lengthAdjust="spacing" clip-path="url(#paxclip)" xml:space="preserve">5,400.000</text>
<text x="1758.93" y="316.10" font-size="23.19" fill="#131722" textLength="118.53" lengthAdjust="spacing" clip-path="url(#paxclip)" xml:space="preserve">5,200.000</text>
<text x="1758.93" y="382.60" font-size="23.19" fill="#131722" textLength="118.53" lengthAdjust="spacing" clip-path="url(#paxclip)" xml:space="preserve">5,000.000</text>
<text x="1759.47" y="449.10" font-size="23.19" fill="#131722" textLength="117.99" lengthAdjust="spacing" clip-path="url(#paxclip)" xml:space="preserve">4,800.000</text>
<text x="1759.47" y="515.60" font-size="23.19" fill="#131722" textLength="117.99" lengthAdjust="spacing" clip-path="url(#paxclip)" xml:space="preserve">4,600.000</text>
<text x="1759.47" y="582.10" font-size="23.19" fill="#131722" textLength="117.99" lengthAdjust="spacing" clip-path="url(#paxclip)" xml:space="preserve">4,400.000</text>
<text x="1759.47" y="648.60" font-size="23.19" fill="#131722" textLength="117.99" lengthAdjust="spacing" clip-path="url(#paxclip)" xml:space="preserve">4,200.000</text>
<text x="1759.47" y="715.10" font-size="23.19" fill="#131722" textLength="117.99" lengthAdjust="spacing" clip-path="url(#paxclip)" xml:space="preserve">4,000.000</text>
<text x="1759.20" y="781.60" font-size="23.19" fill="#131722" textLength="118.26" lengthAdjust="spacing" clip-path="url(#paxclip)" xml:space="preserve">3,800.000</text>
<text x="785.05" y="842.00" font-size="23.19" fill="#131722" textLength="43.45" lengthAdjust="spacingAndGlyphs" xml:space="preserve">Nov</text>
<text x="999.02" y="842.50" font-size="23.91" fill="#131722" textLength="43.97" lengthAdjust="spacingAndGlyphs" xml:space="preserve">Dec</text>
<text x="1225.15" y="842.50" font-size="25.00" fill="#131722" font-weight="700" textLength="63.38" lengthAdjust="spacingAndGlyphs" xml:space="preserve">2026</text>
<text x="1459.03" y="842.50" font-size="23.91" fill="#131722" textLength="42.36" lengthAdjust="spacingAndGlyphs" xml:space="preserve">Feb</text>
<text x="1671.99" y="842.50" font-size="23.91" fill="#131722" textLength="43.34" lengthAdjust="spacingAndGlyphs" xml:space="preserve">Mar</text>
<text x="675.59" y="910.60" font-size="26.96" fill="#131722" textLength="34.97" lengthAdjust="spacingAndGlyphs" xml:space="preserve">1D</text>
<text x="736.38" y="910.60" font-size="26.96" fill="#131722" textLength="35.80" lengthAdjust="spacingAndGlyphs" xml:space="preserve">5D</text>
<text x="796.92" y="910.60" font-size="26.96" fill="#131722" textLength="41.25" lengthAdjust="spacingAndGlyphs" xml:space="preserve">1M</text>
<text x="863.12" y="910.60" font-size="26.57" fill="#131722" textLength="40.61" lengthAdjust="spacingAndGlyphs" xml:space="preserve">3M</text>
<text x="927.29" y="910.60" font-size="26.57" fill="#131722" textLength="41.91" lengthAdjust="spacingAndGlyphs" xml:space="preserve">6M</text>
<text x="993.21" y="910.60" font-size="26.96" fill="#131722" xml:space="preserve">YTD</text>
<text x="1072.62" y="910.60" font-size="26.96" fill="#131722" textLength="32.84" lengthAdjust="spacingAndGlyphs" xml:space="preserve">1Y</text>
<text x="1131.39" y="910.60" font-size="26.96" fill="#131722" textLength="34.09" lengthAdjust="spacingAndGlyphs" xml:space="preserve">5Y</text>
<text x="1191.00" y="910.60" font-size="26.96" fill="#131722" textLength="31.25" lengthAdjust="spacingAndGlyphs" xml:space="preserve">All</text>
<text x="1665.42" y="910.00" font-size="27.54" fill="#131722" textLength="211.66" lengthAdjust="spacing" xml:space="preserve">10:36:44 UTC-5</text>
<text x="763.92" y="722.50" font-size="47.86" fill="#000000" font-weight="700" textLength="159.72" lengthAdjust="spacingAndGlyphs" stroke="#000" stroke-width="0.9" stroke-linejoin="round" xml:space="preserve">KITCO</text>
<!-- price tags -->
<path d="M1744.6 324 H1887 A3 3 0 0 1 1890 327 V354.7 A3 3 0 0 1 1887 357.7 H1744.6 Z" fill="#089981"/>
<path d="M1744.6 734 H1866.5 A3 3 0 0 1 1869.5 737 V764.8 A3 3 0 0 1 1866.5 767.8 H1744.6 Z" fill="#089981"/>

<text x="1758.93" y="348.00" font-size="24.35" fill="#ffffff" textLength="118.53" lengthAdjust="spacing" xml:space="preserve">5,108.255</text>
<text x="1758.25" y="760.00" font-size="25.14" fill="#ffffff" textLength="99.82" lengthAdjust="spacing" xml:space="preserve">791.26 K</text>

</svg>
</body></html>
